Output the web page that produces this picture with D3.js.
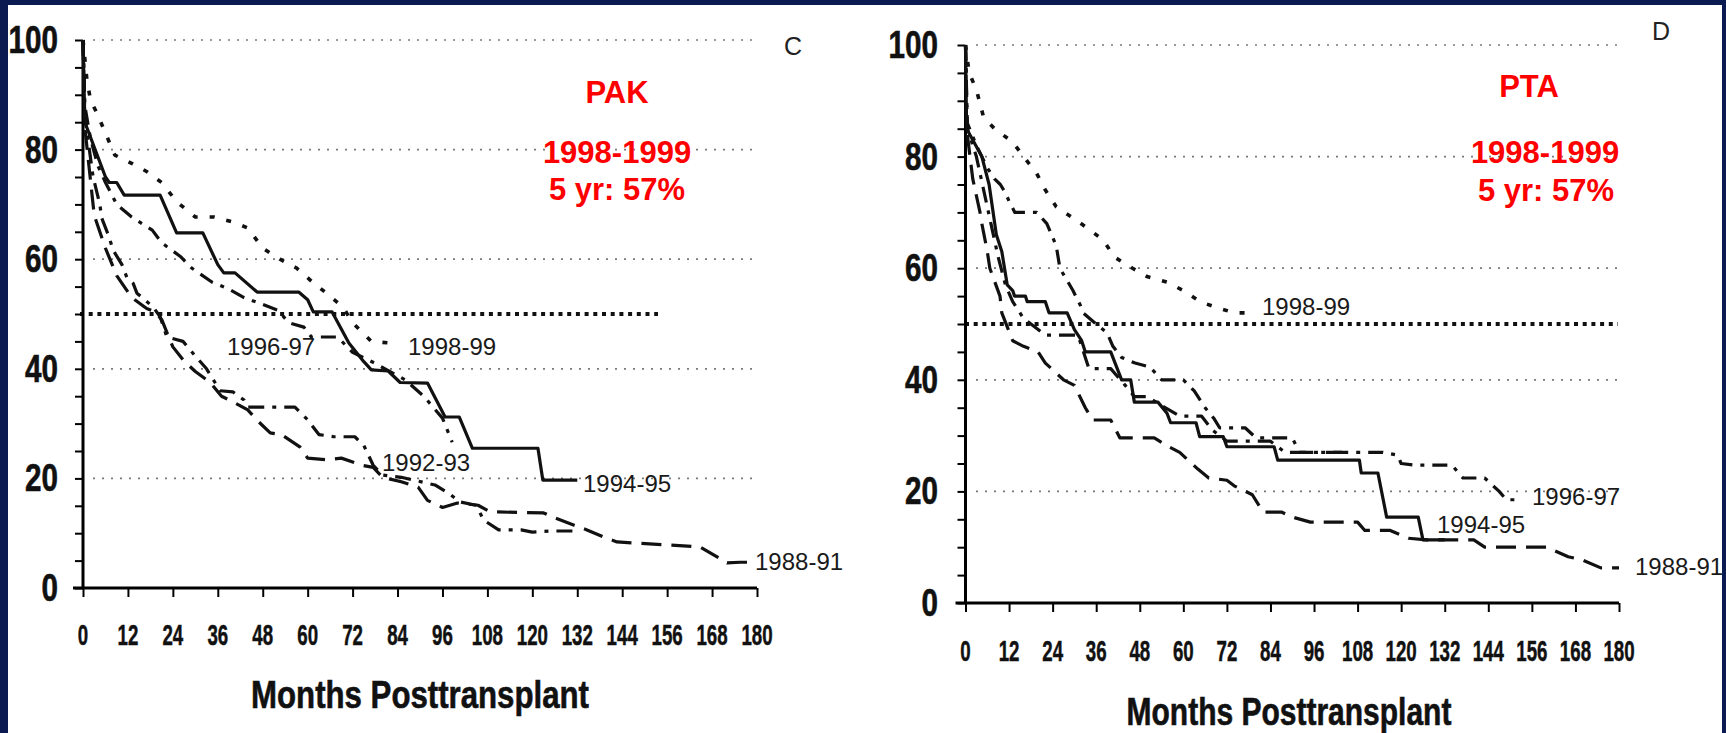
<!DOCTYPE html>
<html>
<head>
<meta charset="utf-8">
<script src="https://cdn.jsdelivr.net/npm/d3@7"></script>
<style>
  body { margin: 0; background: #0b1a50; }
  svg { display: block; }
</style>
</head>
<body>
<svg width="1726" height="733"></svg>
<script>
const month_ticks = [0, 12, 24, 36, 48, 60, 72, 84, 96, 108, 120, 132, 144, 156, 168, 180]
const value_ticks = [0, 20, 40, 60, 80, 100]
const minor_ticks = [0, 5, 10, 15, 20, 25, 30, 35, 40, 45, 50, 55, 60, 65, 70, 75, 80, 85, 90, 95, 100]
const grid_values = [20, 40, 60, 80, 100]
const half_value = 50

// PAK (panel C), [month, % surviving]
const pak_1998_99 = [[0,100],[1,93],[2,89],[3.7,86.7],[6,83],[8.5,79],[13,77.5],[17,76],[21,74],[25,70.5],[30,67.7],[35,67.7],[40,66.8],[44,65.7],[48,62],[52.6,60],[57,58.4],[61,56],[65,53.8],[69.4,51.3],[72,48.4],[77,45],[82,44.7]]
const pak_1996_97 = [[0,100],[0.5,88],[2,82],[4,77],[6,74],[9,70],[13,67.7],[18.5,65.3],[21,63],[26,60.5],[29,58.4],[34.5,55.8],[38.5,54.7],[43,53],[47,52],[52,50.7],[55,48.4],[59,47.6],[61,45.8],[68,45.8],[72,43],[78,41],[82,39.5],[86,38],[91,35],[96,31],[98.6,26.6]]
const pak_1994_95 = [[0,100],[0.5,85],[6,75],[7,74],[9,74],[11,71.7],[20.6,71.7],[25,64.8],[32,64.8],[36,59],[37.6,57.5],[40.6,57.5],[46.5,54],[57.6,54],[60,52.6],[61.5,50.4],[66.5,50.4],[71,44.7],[75,41.3],[77,39.8],[81.5,39.6],[84.7,37.5],[92,37.4],[96.7,31.2],[100.5,31.2],[104,25.5],[121.5,25.5],[122.8,19.7],[132,19.7]]
const pak_1992_93 = [[0,100],[0.5,86],[2.7,75],[4.5,70],[5,67.5],[7,64],[8,61.7],[10.4,59],[11.7,56.7],[13.4,55.6],[14.4,53.8],[18.7,51.3],[20.6,49.5],[22.4,45.8],[26.7,45],[30.4,42],[33,40],[36.6,36],[40,35.8],[43,34.3],[44,33],[56.6,33],[60,30.7],[63,28],[67,27.6],[72.6,27.6],[75,26],[77.5,22.4],[80,20.6],[85,20.2],[94,18.8],[97.6,17.3],[100.7,15.7],[105,15.1],[107,12.4],[111,10.6],[117,10.6],[120,10.2],[125,10.4],[131,10.4]]
const pak_1988_91 = [[0,100],[0.5,84],[3,68],[6,62],[9,57],[12,54],[14,52.5],[17,51],[19,50.5],[21,49],[24,44],[27,41.4],[30,39.5],[34,37.5],[37,35],[40,34],[44,32.5],[46.5,30.6],[50,28.3],[53,28],[58,25.7],[60,23.7],[65.4,23.4],[69,23.7],[74.5,22.4],[77.5,22],[80,20.2],[85,19.4],[89.5,18.4],[92,16],[96,14.7],[100,15.5],[105.5,15.1],[108.7,13.9],[123,13.7],[126,12.8],[131,11.5],[134.6,10.6],[139,9.3],[142.6,8.4],[164.8,7.5],[167.5,6.4],[172,4.6],[175.5,4.7],[179,4.7]]

// PTA (panel D)
const pta_1998_99 = [[0,100],[1,95],[3,92],[5,87],[8,85],[13,82.6],[16,80],[19.6,77],[22,74],[25,71],[29.6,69],[34,67],[38,65],[41,62],[46,60],[50,58.5],[55.5,57.5],[60,56],[64.6,54],[69,53],[74,52],[80,52]]
const pta_1996_97 = [[0,100],[0.5,86],[3,82],[6,78],[8,76],[9.6,75],[11,73.5],[12,72],[13.6,70],[19.6,70],[22.4,68],[25,64],[26,60],[29.6,56],[31.6,53.4],[32.4,52],[36,50],[39,48.4],[40.6,46],[43,44],[46.7,43],[50.8,42.3],[54,40],[60,40],[63,38],[66,35],[68.5,33],[70,31.4],[77,31.4],[80,29.6],[90,29.6],[92,27],[115,27],[119,26.5],[120,25],[124,24.7],[134,24.7],[137,22.4],[143,22.4],[147,20],[149,18.5],[153,18.5]]
const pta_1994_95 = [[0,100],[0.3,85],[4.5,80],[6.5,75],[8.5,66],[10,63],[11.5,57],[13,56],[13.5,55],[16.5,55],[17,54],[22,54],[23,52],[28,52],[30,49],[32,47],[33,45],[40,45],[43,40],[45.5,40],[46.5,36],[53,36],[55.5,34],[56.5,32.3],[63.5,32.3],[64.5,29.8],[71,29.8],[72,28],[85,28],[86,25.6],[108.5,25.6],[109,23.3],[113.6,23.3],[116,15.4],[124.7,15.4],[126,11.3],[132,11.3]]
const pta_1992_93 = [[0,100],[0.5,85],[3,80],[5,74],[7,68],[9,62],[11,57],[13,54],[16,51],[20,49],[22,48],[31,48],[33,44],[34,42],[40,42],[44,39],[46.5,37],[50,37],[55,35],[59,33.5],[65,33.5],[68,31],[72,29],[84,29],[88,27],[104,27]]
const pta_1988_91 = [[0,100],[0.3,85],[2,76],[4,70],[4.5,68],[6,63],[6.7,60],[9.5,55],[10,52],[13,47],[16,46],[20,45],[22,43],[27,40],[30,39],[33,35],[35,32.8],[40,32.8],[42.5,29.6],[52,29.6],[56,28],[59,27],[64,24],[67,22.4],[72,22],[74,21],[79,19.4],[82,16.3],[87,16.3],[90,15.4],[95,14.5],[108,14.5],[110,13],[117,13],[122,11.6],[127,11.3],[140,11.3],[143,10],[160,10],[166,8.3],[170,7.7],[175,6.3],[180,6.3]]

const series_names = ["1998-99", "1996-97", "1994-95", "1992-93", "1988-91"]
const pak_values = [pak_1998_99, pak_1996_97, pak_1994_95, pak_1992_93, pak_1988_91]
const pta_values = [pta_1998_99, pta_1996_97, pta_1994_95, pta_1992_93, pta_1988_91]
const pak_notes = ["PAK", "1998-1999", "5 yr: 57%"]
const pta_notes = ["PTA", "1998-1999", "5 yr: 57%"]

const line_dash = {
    "1998-99": "5,12",
    "1996-97": "15,8,4,8",
    "1994-95": null,
    "1992-93": "16,8,4,8",
    "1988-91": "20,10"
}

const bold_font = "'Liberation Sans', Arial, sans-serif"
const bold_style = size => `font-family: ${bold_font}; font-weight: bold; font-size: ${size}px;`

const panels = [
    {
        letter: "C", letter_pos: [793, 55],
        x_range: [83, 757], y_range: [588, 40],
        grid_x: [93, 758], half_x: [80, 658],
        values: pak_values,
        notes: pak_notes, note_pos: [[617, 103], [617, 163], [617, 200]],
        y_label_right: 58, x_label_base: 645,
        title_pos: [420, 708], title_len: 338,
        labels: [
            {name: "1996-97", x: 227, y: 355},
            {name: "1998-99", x: 408, y: 355},
            {name: "1992-93", x: 382, y: 471},
            {name: "1994-95", x: 583, y: 492},
            {name: "1988-91", x: 755, y: 570}
        ]
    },
    {
        letter: "D", letter_pos: [1661, 40],
        x_range: [965.5, 1619], y_range: [603, 45],
        grid_x: [976, 1618], half_x: [965, 1618],
        values: pta_values,
        notes: pta_notes, note_pos: [[1529, 97], [1545, 163], [1546, 201]],
        y_label_right: 938, x_label_base: 661,
        title_pos: [1289, 725], title_len: 325,
        labels: [
            {name: "1998-99", x: 1262, y: 315},
            {name: "1996-97", x: 1532, y: 505},
            {name: "1994-95", x: 1437, y: 533},
            {name: "1988-91", x: 1635, y: 575}
        ]
    }
]

const svg = d3.select("svg")

svg.append("rect")
    .attr("x", 8).attr("y", 5)
    .attr("width", 1714).attr("height", 728)
    .attr("fill", "white")

// condensed bold text: measured, then squeezed sideways to the wanted width
function squeezed(g, txt, x, y, width, anchor, size) {
    const t = g.append("text")
        .attr("text-anchor", anchor)
        .attr("style", bold_style(size))
        .attr("fill", "#111")
        .attr("stroke", "#111")
        .attr("stroke-width", 0.6)
        .text(txt)
    const w = t.node().getComputedTextLength()
    t.attr("transform", `translate(${x},${y}) scale(${width / w},1)`)
    return t
}

function draw_panel(panel) {

    const x = d3.scaleLinear().domain([0, 180]).range(panel.x_range)
    const y = d3.scaleLinear().domain([0, 100]).range(panel.y_range)
    const g = svg.append("g")

    g.selectAll(".grid")
        .data(grid_values)
        .enter()
        .append("line")
        .attr("x1", panel.grid_x[0])
        .attr("x2", panel.grid_x[1])
        .attr("y1", v => y(v))
        .attr("y2", v => y(v))
        .attr("stroke", "#7a7a7a")
        .attr("stroke-width", 1.7)
        .attr("stroke-dasharray", "2,7")

    g.append("line")
        .attr("x1", panel.half_x[0])
        .attr("x2", panel.half_x[1])
        .attr("y1", y(half_value))
        .attr("y2", y(half_value))
        .attr("stroke", "#111")
        .attr("stroke-width", 4)
        .attr("stroke-dasharray", "4,4.7")

    // axes
    const y_axis = d3.axisLeft(y).tickValues(minor_ticks).tickSize(8).tickFormat("")
    g.append("g")
        .attr("transform", `translate(${x(0)},0)`)
        .call(y_axis)
        .call(a => a.select(".domain").attr("stroke-width", 3).attr("d", `M0,${y(100)}V${y(0)}`))
        .call(a => a.selectAll(".tick line").attr("stroke-width", 2))

    const x_axis = d3.axisBottom(x).tickValues(month_ticks).tickSize(9).tickFormat("")
    g.append("g")
        .attr("transform", `translate(0,${y(0)})`)
        .call(x_axis)
        .call(a => a.select(".domain").attr("stroke-width", 3).attr("d", `M${x(0) - 10},0H${x(180)}`))
        .call(a => a.selectAll(".tick line").attr("stroke-width", 2))

    value_ticks.forEach(v =>
        squeezed(g, v, panel.y_label_right, y(v) + 13, String(v).length * 16.5, "end", 38))

    month_ticks.forEach(m =>
        squeezed(g, m, x(m), panel.x_label_base, String(m).length * 10.4, "middle", 30)
            .attr("stroke-width", 0.5))

    squeezed(g, "Months Posttransplant", panel.title_pos[0], panel.title_pos[1], panel.title_len, "middle", 38)

    // survival curves
    const line = d3.line().x(d => x(d[0])).y(d => y(d[1]))

    g.selectAll(".curve")
        .data(panel.values)
        .enter()
        .append("path")
        .attr("d", line)
        .attr("fill", "none")
        .attr("stroke", "#111")
        .attr("stroke-width", (d, i) => series_names[i] === "1998-99" ? 3.6 : 3.2)
        .attr("stroke-dasharray", (d, i) => line_dash[series_names[i]])
        .attr("stroke-linejoin", "round")

    g.selectAll(".serieslab")
        .data(panel.labels)
        .enter()
        .append("text")
        .attr("x", l => l.x)
        .attr("y", l => l.y)
        .attr("style", "font-family: 'Liberation Sans', Arial, sans-serif; font-size: 24px;")
        .attr("fill", "#1a1a1a")
        .text(l => l.name)

    g.append("text")
        .attr("x", panel.letter_pos[0])
        .attr("y", panel.letter_pos[1])
        .attr("text-anchor", "middle")
        .attr("style", "font-family: 'Liberation Sans', Arial, sans-serif; font-size: 25px;")
        .attr("fill", "#222")
        .text(panel.letter)

    g.selectAll(".note")
        .data(panel.notes)
        .enter()
        .append("text")
        .attr("x", (n, i) => panel.note_pos[i][0])
        .attr("y", (n, i) => panel.note_pos[i][1])
        .attr("text-anchor", "middle")
        .attr("style", bold_style(31))
        .attr("fill", "#fe0000")
        .text(n => n)
}

panels.forEach(draw_panel)

// frame edge over the right label
svg.append("rect")
    .attr("x", 1722).attr("y", 0)
    .attr("width", 4).attr("height", 733)
    .attr("fill", "#0b1a50")
</script>
</body>
</html>
